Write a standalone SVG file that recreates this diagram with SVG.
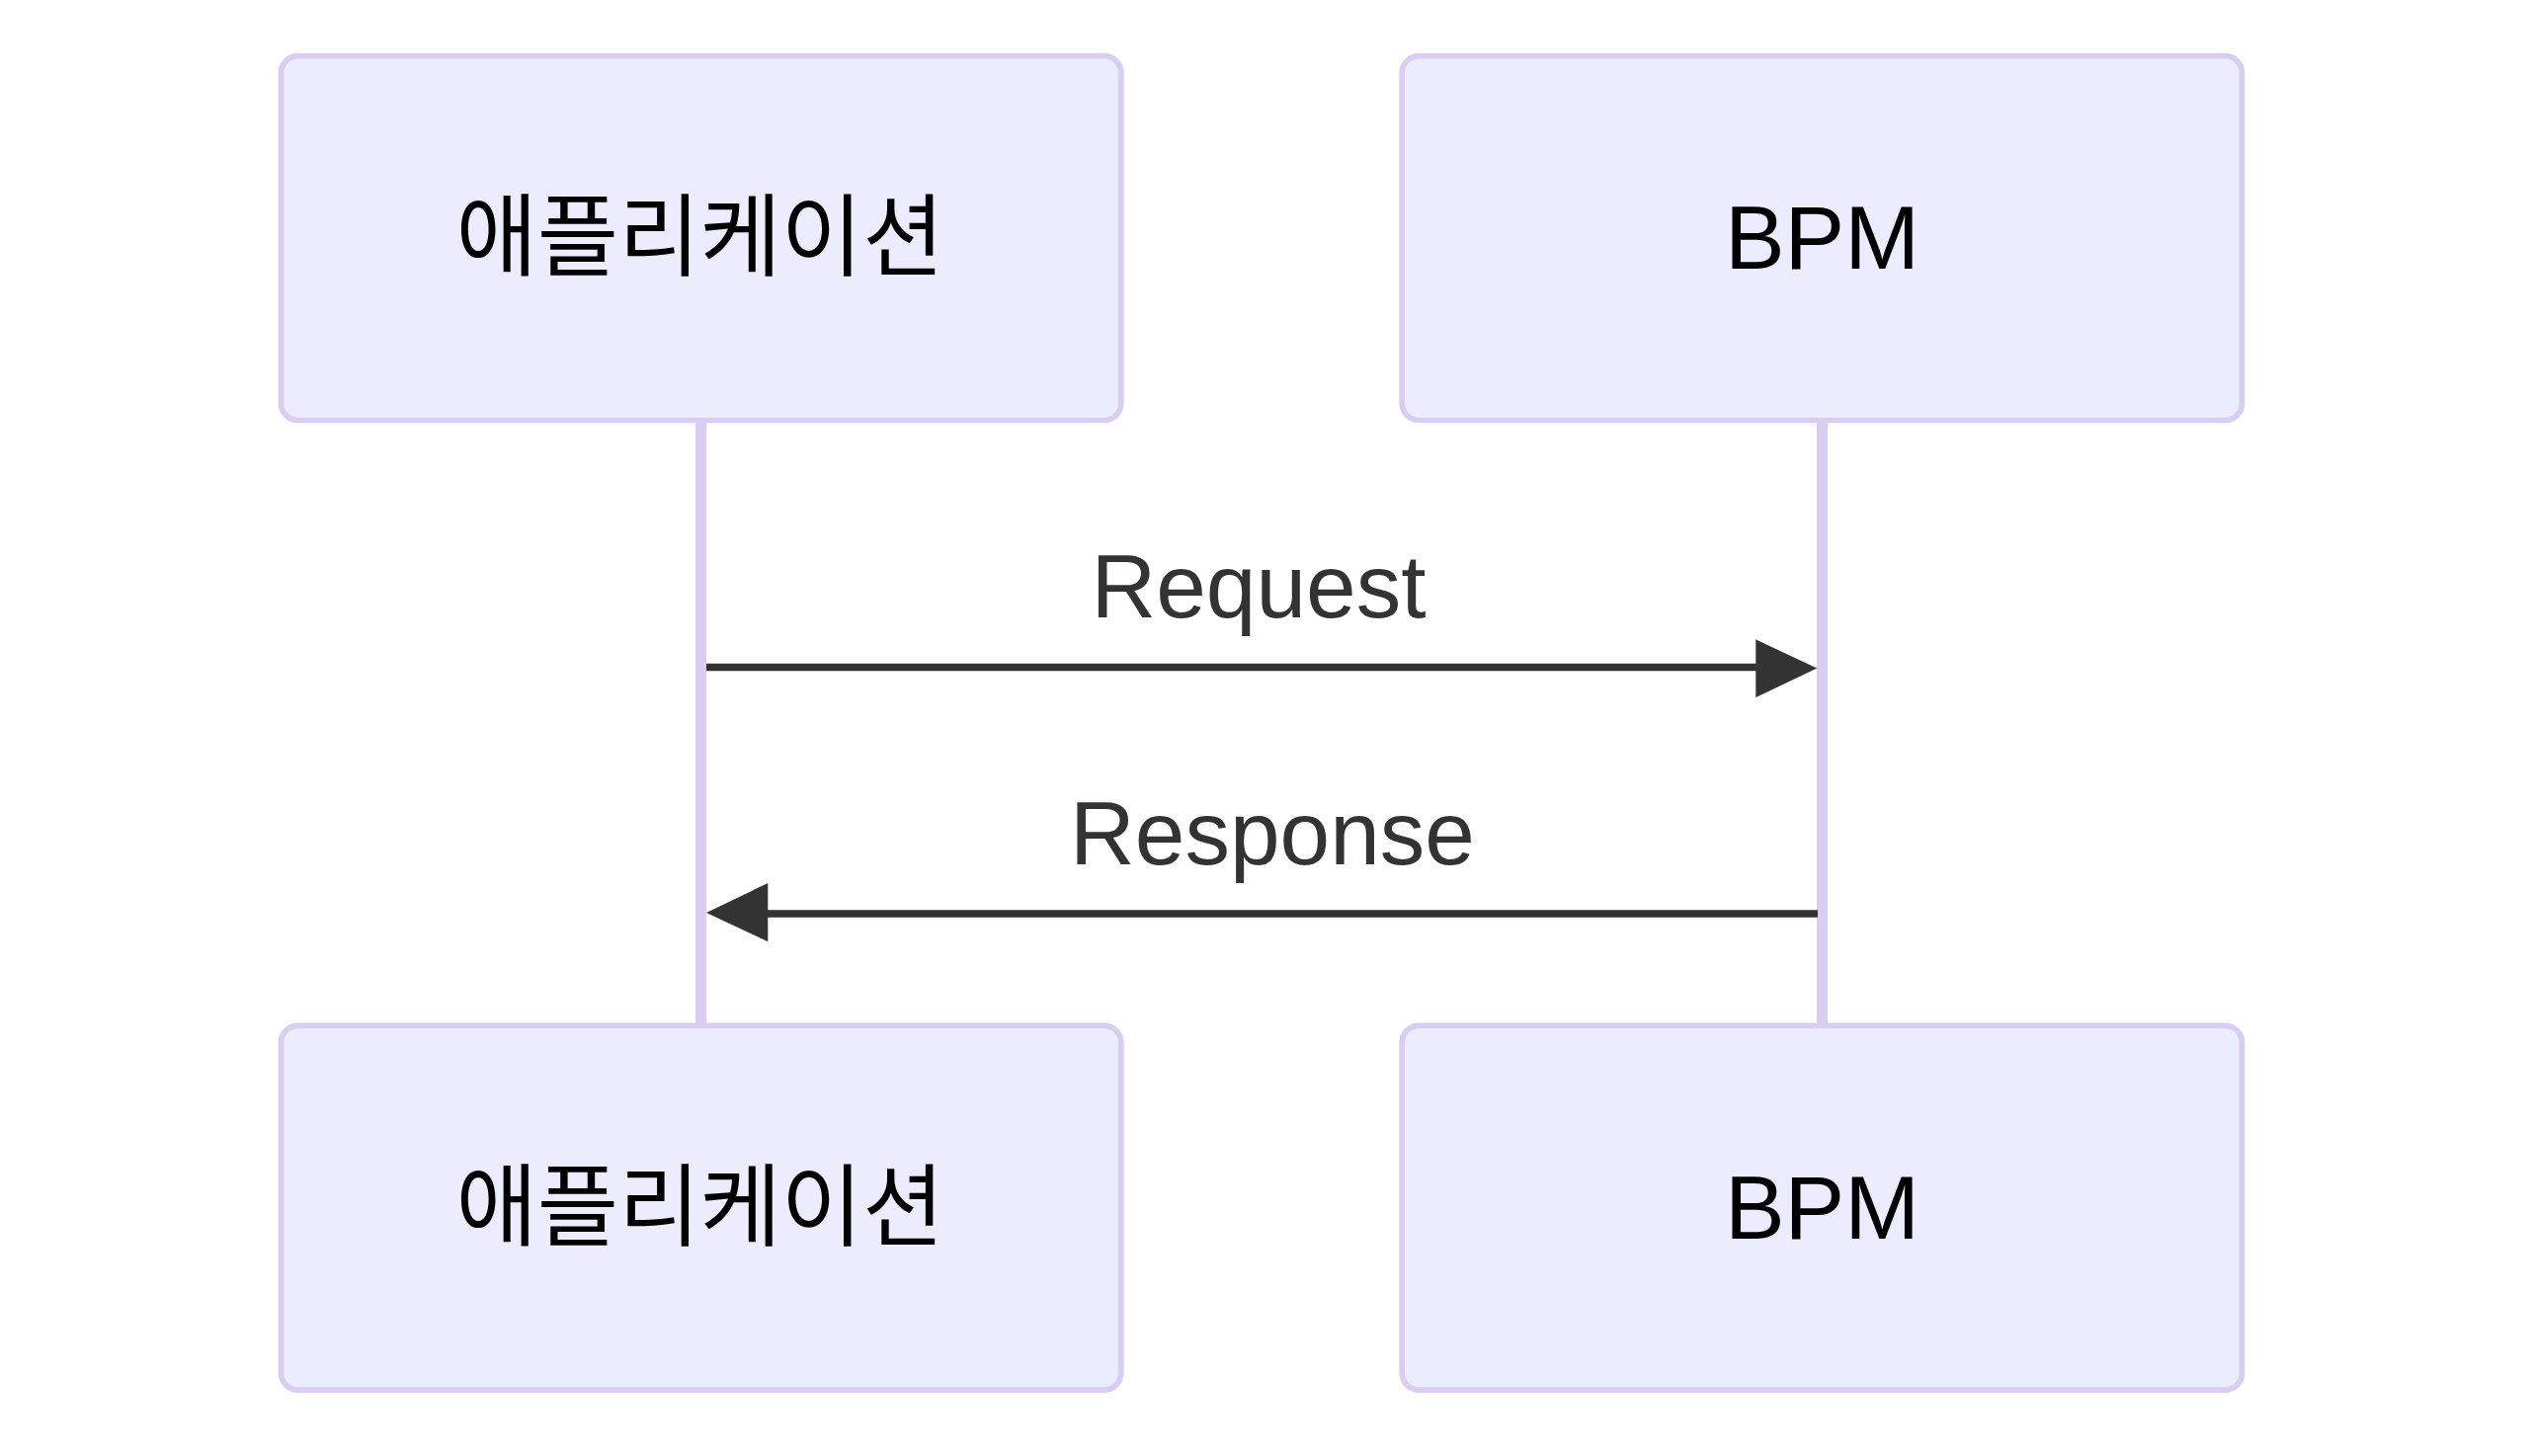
<svg xmlns="http://www.w3.org/2000/svg" width="2560" height="1474" viewBox="0 0 2560 1474">
<style>
.actor{fill:#ECECFF;stroke:#D9CDF2;stroke-width:5.7}
.lifeline{stroke:#D9CDF2;stroke-width:11}
.atext{font-family:"Liberation Sans","Noto Sans CJK KR",Arial,sans-serif;font-size:91px;fill:#000;text-anchor:middle}
.msg{stroke:#333;stroke-width:7.6;fill:none}
.mtext{font-family:"Liberation Sans",Arial,sans-serif;font-size:91px;fill:#333;text-anchor:middle}
.head{fill:#333}
</style>
<rect width="2560" height="1474" fill="#fff"/>
<g id="lifelines">
<line class="lifeline" x1="709.5" y1="428" x2="709.5" y2="1036"/>
<line class="lifeline" x1="1844.5" y1="428" x2="1844.5" y2="1036"/>
</g>
<g id="actor-app-top">
<rect class="actor" x="284.5" y="56.7" width="850.3" height="368.8" rx="17"/>
<text class="atext" x="708.5" y="272" textLength="494" lengthAdjust="spacingAndGlyphs">애플리케이션</text>
</g>
<g id="actor-bpm-top">
<rect class="actor" x="1419.2" y="56.7" width="850.3" height="368.8" rx="17"/>
<text class="atext" x="1844.5" y="272">BPM</text>
</g>
<g id="actor-app-bottom">
<rect class="actor" x="284.5" y="1038.3" width="850.3" height="368.8" rx="17"/>
<text class="atext" x="708.5" y="1253.6" textLength="494" lengthAdjust="spacingAndGlyphs">애플리케이션</text>
</g>
<g id="actor-bpm-bottom">
<rect class="actor" x="1419.2" y="1038.3" width="850.3" height="368.8" rx="17"/>
<text class="atext" x="1844.5" y="1253.6">BPM</text>
</g>
<g id="connectors">
<line class="msg" x1="715" y1="675.5" x2="1780" y2="675.5"/>
<polygon class="head" points="1777.3,647.3 1839.3,676.5 1777.3,706"/>
<text class="mtext" x="1274" y="625">Request</text>
<line class="msg" x1="1840" y1="925" x2="775" y2="925"/>
<polygon class="head" points="777.3,894 715,924 777.3,953.3"/>
<text class="mtext" x="1288" y="874.5">Response</text>
</g>
</svg>
